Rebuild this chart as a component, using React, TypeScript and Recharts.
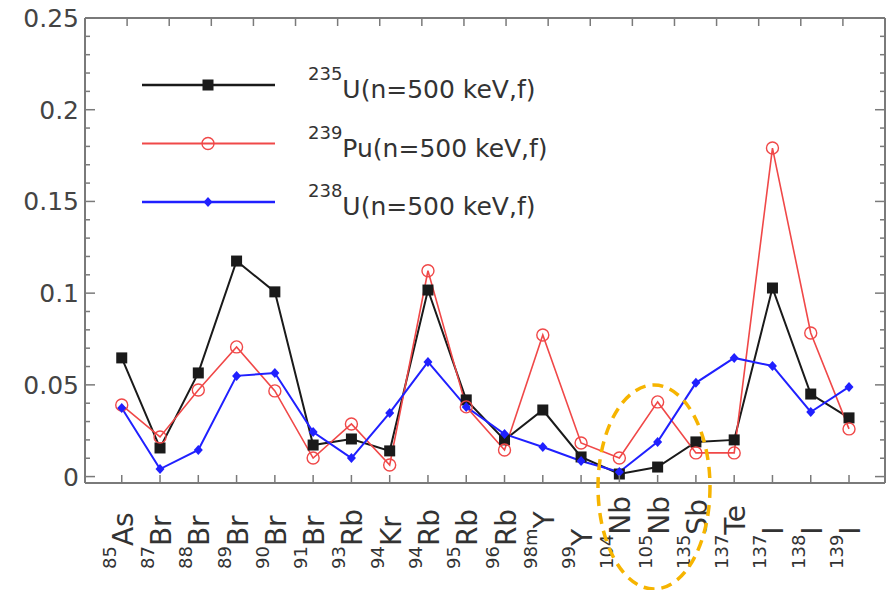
import React from 'react';
import { LineChart, Line, XAxis, YAxis, Legend } from 'recharts';

const massNumbers = ['85', '87', '88', '89', '90', '91', '93', '94', '94', '95', '96', '98m', '99', '104', '105', '135', '137', '137', '138', '139'];
const elements = ['As', 'Br', 'Br', 'Br', 'Br', 'Br', 'Rb', 'Kr', 'Rb', 'Rb', 'Rb', 'Y', 'Y', 'Nb', 'Nb', 'Sb', 'Te', 'I', 'I', 'I'];

const u235 = [0.0647, 0.0156, 0.0565, 0.1175, 0.1007, 0.0172, 0.0205, 0.014, 0.1017, 0.0418, 0.02, 0.0363, 0.0107, 0.0014, 0.0052, 0.0189, 0.02, 0.1028, 0.045, 0.032];
const pu239 = [0.039, 0.0216, 0.0472, 0.0707, 0.0467, 0.0101, 0.0287, 0.0063, 0.1122, 0.038, 0.0145, 0.0772, 0.0183, 0.0101, 0.0407, 0.0129, 0.0129, 0.1791, 0.0783, 0.026];
const u238 = [0.0374, 0.0041, 0.0145, 0.0549, 0.0565, 0.0243, 0.0101, 0.0347, 0.0625, 0.038, 0.0232, 0.0161, 0.0085, 0.0025, 0.0189, 0.0511, 0.0647, 0.0603, 0.0352, 0.0489];

const yMajorTicks = [0, 0.05, 0.1, 0.15, 0.2, 0.25];
const yMinorTicks = [0.01, 0.02, 0.03, 0.04, 0.06, 0.07, 0.08, 0.09, 0.11, 0.12, 0.13, 0.14, 0.16, 0.17, 0.18, 0.19, 0.21, 0.22, 0.23, 0.24];
const yTicks = [...yMajorTicks, ...yMinorTicks].sort((a, b) => a - b);
const xTicks = elements.map((_, i) => i);

const series = [
  { key: 'u235', mass: '235', nuc: 'U(n=500 keV,f)', color: '#1a1a1a', width: 2, marker: 'square' },
  { key: 'pu239', mass: '239', nuc: 'Pu(n=500 keV,f)', color: '#f04848', width: 1.6, marker: 'circle' },
  { key: 'u238', mass: '238', nuc: 'U(n=500 keV,f)', color: '#2020ff', width: 2, marker: 'diamond' },
];

const data = elements.map((el, i) => ({
  idx: i,
  name: massNumbers[i] + el,
  u235: u235[i],
  pu239: pu239[i],
  u238: u238[i],
}));

const AXIS = '#7a7a7a';
const FONT = 'DejaVu Sans';

const isMajor = (v: number) => Math.round(v * 100) % 5 === 0;

const Marker = ({ type, cx, cy, color }: any) => {
  if (type === 'square') return <rect x={cx - 5.5} y={cy - 5.5} width={11} height={11} fill={color} />;
  if (type === 'circle') return <circle cx={cx} cy={cy} r={6} fill="none" stroke={color} strokeWidth={1.4} />;
  return <path d={`M${cx},${cy - 5} L${cx + 4.5},${cy} L${cx},${cy + 5} L${cx - 4.5},${cy} Z`} fill={color} />;
};

const LeftTick = ({ x, y, payload }: any) => {
  const major = isMajor(payload.value);
  return (
    <g>
      <line x1={x} x2={x + (major ? 10 : 5)} y1={y} y2={y} stroke={AXIS} strokeWidth={1.5} />
      {major && (
        <text x={x - 6} y={y + 9} textAnchor="end" fontSize={25} fontFamily={FONT} fill="#444">
          {String(payload.value)}
        </text>
      )}
    </g>
  );
};

const RightTick = ({ x, y, payload }: any) => {
  const major = isMajor(payload.value);
  return <line x1={x} x2={x - (major ? 10 : 5)} y1={y} y2={y} stroke={AXIS} strokeWidth={1.5} />;
};

const BottomTick = ({ x, y, payload }: any) => {
  const i = payload.value;
  const tx = x + 11;
  const ty = 569;
  return (
    <g>
      <line x1={x} x2={x} y1={y} y2={y - 8} stroke={AXIS} strokeWidth={1.5} />
      <text transform={`rotate(-90, ${tx}, ${ty})`} x={tx} y={ty} fontFamily={FONT} fill="#333">
        <tspan fontSize={18} dy={-17}>{massNumbers[i]}</tspan>
        <tspan fontSize={28} dy={17}>{elements[i]}</tspan>
      </text>
    </g>
  );
};

const TopTick = ({ x, y }: any) => <line x1={x} x2={x} y1={y} y2={y + 8} stroke={AXIS} strokeWidth={1.5} />;

const renderLegend = () => (
  <svg width={440} height={175}>
    {series.map((s, i) => {
      const ly = 30 + i * 58.5;
      return (
        <g key={s.key}>
          <line x1={12} x2={145} y1={ly} y2={ly} stroke={s.color} strokeWidth={s.width + 0.4} />
          <Marker type={s.marker} cx={78} cy={ly} color={s.color} />
          <text x={178} y={ly + 13} fontFamily={FONT} fill="#333">
            <tspan fontSize={18} dy={-18}>{s.mass}</tspan>
            <tspan fontSize={25} dy={18}>{s.nuc}</tspan>
          </text>
        </g>
      );
    })}
  </svg>
);

export default function App() {
  return (
    <div style={{ position: 'absolute', left: 0, top: 0, width: 892, height: 590, background: '#fff' }}>
      <LineChart width={892} height={590} data={data} margin={{ top: 0, right: 0, bottom: 0, left: 0 }}>
        <XAxis
          dataKey="idx"
          type="number"
          domain={[-0.96, 19.94]}
          allowDataOverflow
          ticks={xTicks}
          interval={0}
          height={107}
          tickSize={0}
          tickMargin={0}
          tickLine={false}
          tick={<BottomTick />}
          axisLine={{ stroke: AXIS, strokeWidth: 2 }}
        />
        <XAxis
          xAxisId="top"
          orientation="top"
          type="number"
          domain={[-0.96, 19.94]}
          allowDataOverflow
          ticks={xTicks}
          interval={0}
          height={18}
          tickSize={0}
          tickMargin={0}
          tickLine={false}
          tick={<TopTick />}
          axisLine={{ stroke: AXIS, strokeWidth: 2 }}
        />
        <YAxis
          type="number"
          domain={[-0.0035, 0.25]}
          allowDataOverflow
          ticks={yTicks}
          interval={0}
          width={85}
          tickSize={0}
          tickMargin={0}
          tickLine={false}
          tick={<LeftTick />}
          axisLine={{ stroke: AXIS, strokeWidth: 2 }}
        />
        <YAxis
          yAxisId="right"
          orientation="right"
          type="number"
          domain={[-0.0035, 0.25]}
          allowDataOverflow
          ticks={yTicks}
          interval={0}
          width={7}
          tickSize={0}
          tickMargin={0}
          tickLine={false}
          tick={<RightTick />}
          axisLine={{ stroke: AXIS, strokeWidth: 2 }}
        />
        <Legend
          layout="horizontal"
          verticalAlign="middle"
          align="center"
          wrapperStyle={{ left: 130, top: 55, width: 440, height: 175 }}
          content={renderLegend}
        />
        {series.map((s) => (
          <Line
            key={s.key}
            dataKey={s.key}
            type="linear"
            stroke={s.color}
            strokeWidth={s.width}
            isAnimationActive={false}
            activeDot={false}
            dot={(p: any) => <Marker key={`${s.key}-${p.index}`} type={s.marker} cx={p.cx} cy={p.cy} color={s.color} />}
          />
        ))}
      </LineChart>
      <svg width={892} height={590} style={{ position: 'absolute', left: 0, top: 0, pointerEvents: 'none' }}>
        <ellipse cx={654} cy={487} rx={56} ry={102} fill="none" stroke="#f6b400" strokeWidth={3.5} strokeDasharray="11 7" />
      </svg>
    </div>
  );
}
